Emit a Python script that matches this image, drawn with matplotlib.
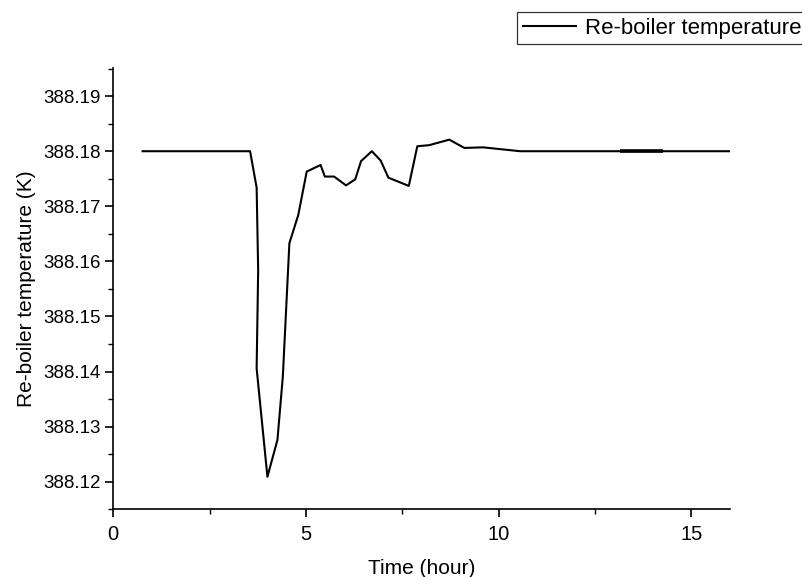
import matplotlib
matplotlib.use("Agg")
import matplotlib.pyplot as plt
from matplotlib.ticker import MultipleLocator, FormatStrFormatter

plt.rcParams['font.family'] = ['Liberation Sans', 'DejaVu Sans']

# Re-boiler temperature response (hours, kelvin)
time_h = [0.76, 3.55, 3.72, 3.76, 3.72, 4.00, 4.26, 4.40, 4.57, 4.80,
          5.02, 5.38, 5.49, 5.73, 6.04, 6.28, 6.43, 6.71, 6.94, 7.14,
          7.67, 7.89, 8.20, 8.72, 9.11, 9.60, 10.56, 13.15, 14.26, 16.00]
temp_k = [388.1800, 388.1800, 388.1734, 388.1584, 388.1406, 388.1209, 388.1276,
          388.1391, 388.1633, 388.1684, 388.1763, 388.1775, 388.1754, 388.1754,
          388.1738, 388.1749, 388.1782, 388.1800, 388.1783, 388.1752, 388.1737,
          388.1809, 388.1811, 388.1821, 388.1806, 388.1807, 388.1800, 388.1800,
          388.1800, 388.1800]
# interval where the trace is drawn heavier
bold_start, bold_end = 13.15, 14.26

x_ticks = [0, 5, 10, 15]
y_ticks = [388.12, 388.13, 388.14, 388.15, 388.16, 388.17, 388.18, 388.19]

fig = plt.figure(figsize=(8.03, 5.77), dpi=100)
ax = fig.add_axes([0.1411, 0.1173, 0.9088 - 0.1411, 0.8821 - 0.1173])

line, = ax.plot(time_h, temp_k, color='black', lw=1.5, label='Re-boiler temperature')
bt = [t for t in time_h if bold_start <= t <= bold_end]
bv = [v for t, v in zip(time_h, temp_k) if bold_start <= t <= bold_end]
ax.plot(bt, bv, color='black', lw=2.6, solid_capstyle='butt')

ax.set_xlim(0, 16)
ax.set_ylim(388.115, 388.1951)
ax.set_xticks(x_ticks)
ax.set_yticks(y_ticks)
ax.xaxis.set_minor_locator(MultipleLocator(2.5))
ax.yaxis.set_minor_locator(MultipleLocator(0.005))
ax.yaxis.set_major_formatter(FormatStrFormatter('%.2f'))

for side in ('top', 'right'):
    ax.spines[side].set_visible(False)
for side in ('left', 'bottom'):
    ax.spines[side].set_linewidth(1.2)

ax.tick_params(which='major', direction='out', length=6, width=1.2)
ax.tick_params(which='minor', direction='out', length=3.5, width=1.0)
ax.tick_params(axis='x', labelsize=14.5, pad=5)
ax.tick_params(axis='y', labelsize=13.5, pad=3)

ax.set_xlabel('Time (hour)', fontsize=15, labelpad=11)
ax.set_ylabel('Re-boiler temperature (K)', fontsize=15, labelpad=5)

leg = fig.legend(handles=[line], loc='upper left',
                 bbox_to_anchor=(517 / 803, 1 - 12 / 577),
                 fontsize=16, frameon=True, fancybox=False,
                 borderpad=0.25, handlelength=2.4, handletextpad=0.4,
                 borderaxespad=0)
leg.get_frame().set_edgecolor('black')
leg.get_frame().set_linewidth(0.9)

fig.savefig('out.png', dpi=100)
